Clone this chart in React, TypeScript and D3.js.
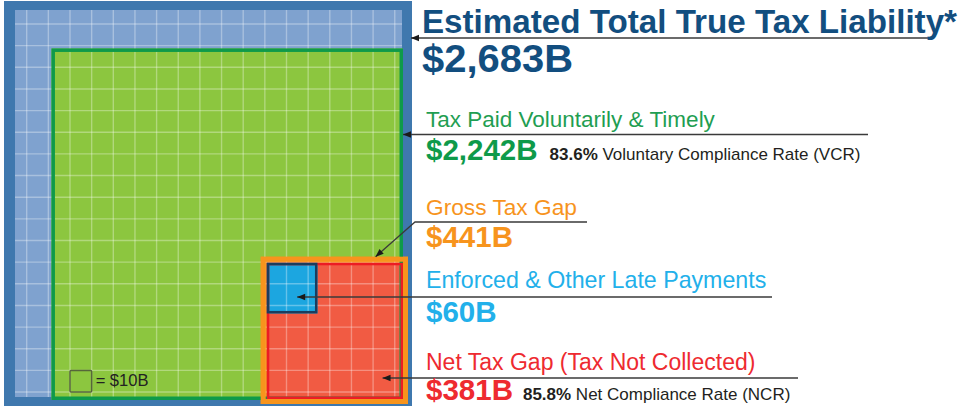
import React from "react";
import * as d3 from "d3";

// ---------- data ----------
const categories = [
  "Estimated Total True Tax Liability*",
  "Tax Paid Voluntarily & Timely",
  "Gross Tax Gap",
  "Enforced & Other Late Payments",
  "Net Tax Gap (Tax Not Collected)",
];
const valuesB = [2683, 2242, 441, 60, 381];
const amountLabels = ["$2,683B", "$2,242B", "$441B", "$60B", "$381B"];
const rateValues = [NaN, 83.6, NaN, NaN, 85.8];
const rateLabels = ["", " Voluntary Compliance Rate (VCR)", "", "", " Net Compliance Rate (NCR)"];
const unitValue = 10;
const unitLabel = "= $" + unitValue + "B";

// ---------- styles ----------
const W = 963;
const H = 407;
const FONT = "'Liberation Sans', Arial, Helvetica, sans-serif";
const C = {
  frame: "#3f78ae",
  light: "#7fa2cf",
  greenFill: "#8cc63f",
  greenStroke: "#0e9a4a",
  orange: "#f7941d",
  redFill: "#f15b43",
  redStroke: "#ec1c24",
  blueFill: "#1ca6e0",
  blueStroke: "#1b3d5e",
  navy: "#124e7f",
  greenText: "#1f9e52",
  skyText: "#22b0ea",
  redText: "#ee2a30",
  dark: "#231f20",
  leader: "#3a3a3a",
};

export default function App() {
  // area-like scale for square sides
  const side = d3.scalePow().exponent(0.535).domain([0, valuesB[0]]).range([0, 387]);

  const ix = 15;
  const iy = 10;
  const S = side(valuesB[0]);

  // green (paid) anchored bottom-right
  const gs = side(valuesB[1]);
  const gx = ix + S + 1 - gs;
  const gy = iy + S + 3 - gs;
  const gW = 3.5;

  // orange (gross)
  const os = side(valuesB[2]);
  const ox = ix + S + 6 - os;
  const oy = iy + S + 7 - os;
  const oW = 5;

  // red (net)
  const rs = side(valuesB[4]);
  const rx = ox + os - oW - rs;
  const ry = oy + os - oW - rs;
  const rW = 2.5;

  // blue (enforced)
  const bs = side(valuesB[3]);
  const bx = rx;
  const by = ry;
  const bW = 2.5;

  // grid of $10B cells
  const cell = 21.65;
  const gridX = d3.scaleLinear().domain([0, 1]).range([26.7, 26.7 + cell]);
  const gridY = d3.scaleLinear().domain([0, 1]).range([24, 24 + cell]);
  const xs = d3.range(-1, 20).map((k) => gridX(k)).filter((x) => x > ix && x < ix + S);
  const ys = d3.range(-1, 20).map((k) => gridY(k)).filter((y) => y > iy && y < iy + S);

  const fmtRate = (v: number) => d3.format(".1f")(v) + "%";

  const arrow = (x1: number, y1: number, x2: number, y2: number) => {
    const ang = Math.atan2(y2 - y1, x2 - x1);
    const L = 8;
    const hw = 3.2;
    const bx0 = x2 - L * Math.cos(ang);
    const by0 = y2 - L * Math.sin(ang);
    const px = -Math.sin(ang) * hw;
    const py = Math.cos(ang) * hw;
    return `M${x2},${y2}L${bx0 + px},${by0 + py}L${bx0 - px},${by0 - py}Z`;
  };

  const tx = 426;
  // leaders: [startX, startY, tipX, tipY]
  const leaders: [number, number, number, number][] = [
    [931, 38, ix + S + 9, 38],
    [868, 134.5, gx + gs, 134.5],
    [415, 222, ox + 0.78 * os, oy],
    [772, 297, bx + 0.6 * bs, 297],
    [798, 378, rx + 0.85 * rs, 378],
  ];

  return (
    <svg
      width={W}
      height={H}
      viewBox={`0 0 ${W} ${H}`}
      style={{ position: "absolute", left: 0, top: 0, display: "block", background: "#fff" }}
      fontFamily={FONT}
    >
      <defs>
        <clipPath id="innerClip">
          <rect x={ix} y={iy} width={S} height={S} />
        </clipPath>
      </defs>

      {/* frame + light blue total */}
      <rect x={ix - 11} y={iy - 9} width={S + 21} height={S + 18} fill={C.frame} />
      <rect x={ix} y={iy} width={S} height={S} fill={C.light} />

      {/* fills */}
      <rect x={gx} y={gy} width={gs} height={gs} fill={C.greenFill} />
      <rect x={ox} y={oy} width={os} height={os} fill={C.orange} />
      <rect x={rx} y={ry} width={rs} height={rs} fill={C.redFill} />
      <rect x={bx} y={by} width={bs} height={bs} fill={C.blueFill} />

      {/* grid */}
      <g clipPath="url(#innerClip)" stroke="#ffffff" strokeOpacity={0.32} strokeWidth={1.4}>
        {xs.map((x, i) => (
          <line key={"vx" + i} x1={x} x2={x} y1={iy} y2={iy + S} />
        ))}
        {ys.map((y, i) => (
          <line key={"hy" + i} x1={ix} x2={ix + S} y1={y} y2={y} />
        ))}
      </g>

      {/* borders */}
      <rect x={gx + gW / 2} y={gy + gW / 2} width={gs - gW} height={gs - gW} fill="none" stroke={C.greenStroke} strokeWidth={gW} />
      <rect x={ox + oW / 2} y={oy + oW / 2} width={os - oW} height={os - oW} fill="none" stroke={C.orange} strokeWidth={oW} />
      <rect x={rx + rW / 2} y={ry + rW / 2} width={rs - rW} height={rs - rW} fill="none" stroke={C.redStroke} strokeWidth={rW} />
      <rect x={bx + bW / 2} y={by + bW / 2} width={bs - bW} height={bs - bW} fill="none" stroke={C.blueStroke} strokeWidth={bW} />

      {/* legend */}
      <rect x={gridX(2)} y={gridY(16)} width={cell} height={cell} fill="none" stroke="#56663a" strokeWidth={1.5} rx={1} />
      <text x={gridX(3) + 4} y={gridY(16) + 16} fontSize={16.5} fill="#222">{unitLabel}</text>

      {/* leaders */}
      <g stroke={C.leader} strokeWidth={1.3} fill="none">
        <line x1={leaders[0][0]} y1={leaders[0][1]} x2={leaders[0][2]} y2={leaders[0][3]} />
        <line x1={leaders[1][0]} y1={leaders[1][1]} x2={leaders[1][2]} y2={leaders[1][3]} />
        <polyline points={`587,222 ${leaders[2][0]},${leaders[2][1]} ${leaders[2][2]},${leaders[2][3]}`} />
        <line x1={leaders[3][0]} y1={leaders[3][1]} x2={leaders[3][2]} y2={leaders[3][3]} />
        <line x1={leaders[4][0]} y1={leaders[4][1]} x2={leaders[4][2]} y2={leaders[4][3]} />
      </g>
      <g fill="#1a1a1a">
        {leaders.map((l, i) => (
          <path key={"ar" + i} d={arrow(l[0], l[1], l[2], l[3])} />
        ))}
      </g>

      {/* texts */}
      <text x={422} y={33} fontSize={33} fontWeight="bold" fill={C.navy} textLength={535} lengthAdjust="spacingAndGlyphs">
        {categories[0]}
      </text>
      <text x={422} y={71.5} fontSize={38.5} fontWeight="bold" fill={C.navy} textLength={151} lengthAdjust="spacingAndGlyphs">
        {amountLabels[0]}
      </text>

      <text x={tx} y={127} fontSize={22.5} fill={C.greenText}>{categories[1]}</text>
      <text x={tx} y={160} fontSize={29.5} fontWeight="bold" fill={C.greenStroke}>
        {amountLabels[1]}
        <tspan dx={12} fontSize={17} fill={C.dark}>{fmtRate(rateValues[1])}</tspan>
        <tspan fontSize={17} fontWeight="normal" fill={C.dark}>{rateLabels[1]}</tspan>
      </text>

      <text x={tx} y={215} fontSize={22.7} fill={C.orange}>{categories[2]}</text>
      <text x={tx} y={247} fontSize={29.5} fontWeight="bold" fill={C.orange}>{amountLabels[2]}</text>

      <text x={tx} y={288} fontSize={23.2} fill={C.skyText}>{categories[3]}</text>
      <text x={tx} y={322} fontSize={29.5} fontWeight="bold" fill={C.skyText}>{amountLabels[3]}</text>

      <text x={tx} y={370} fontSize={23} fill={C.redText}>{categories[4]}</text>
      <text x={tx} y={400} fontSize={29.5} fontWeight="bold" fill={C.redText}>
        {amountLabels[4]}
        <tspan dx={10} fontSize={17} fill={C.dark}>{fmtRate(rateValues[4])}</tspan>
        <tspan fontSize={17} fontWeight="normal" fill={C.dark}>{rateLabels[4]}</tspan>
      </text>
    </svg>
  );
}
